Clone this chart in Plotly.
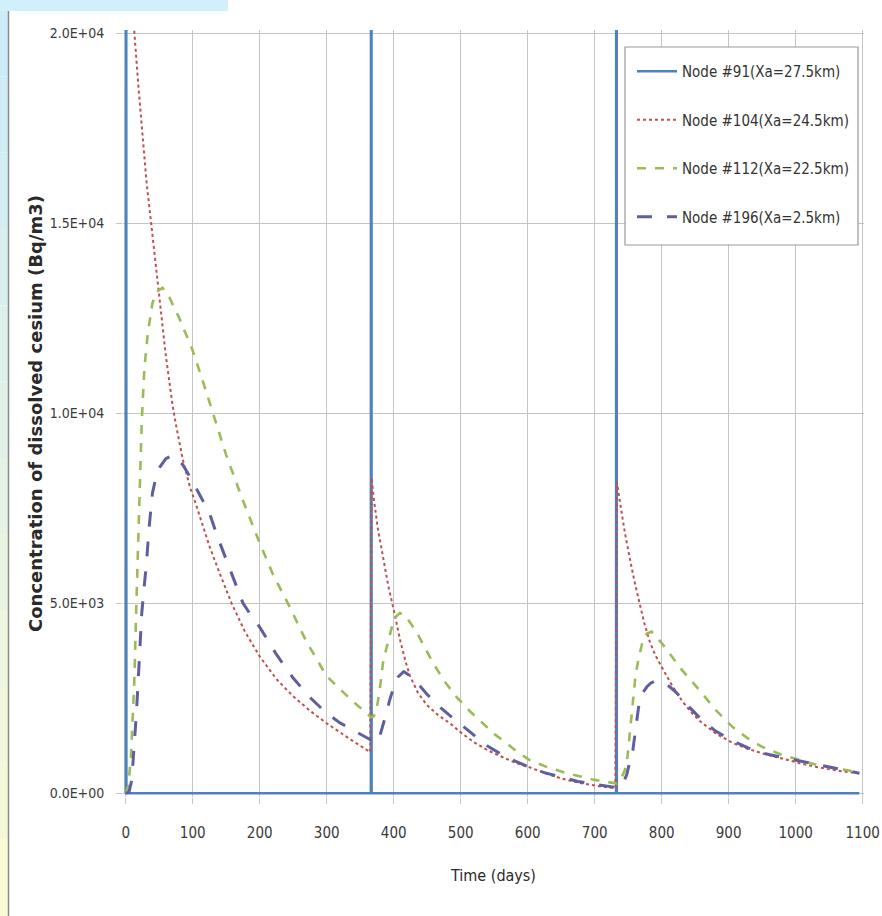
import plotly.graph_objects as go

# ---------------- data ----------------
days_91 = [0, 0.5, 1, 365, 366, 366.5, 367, 731, 732, 732.5, 733, 1095]
vals_91 = [0, 60000, 0, 0, 0, 60000, 0, 0, 0, 60000, 0, 0]

days_104 = [1, 7, 13, 19, 25, 31, 38, 44, 50, 55, 60, 65, 70, 75, 80, 85, 90, 96, 103, 114, 125, 140, 158, 178, 200, 225, 250, 275, 300, 335, 365,
            367, 370, 376, 384, 392, 401, 410, 418, 424, 436, 449, 466, 484, 500, 520, 540, 560, 580, 603, 625, 650, 675, 700, 731,
            733, 737, 741, 745, 750, 755, 761, 767, 774, 782, 790, 800, 815, 830, 843, 857, 880, 906, 928, 950, 978, 1006, 1028, 1050, 1072, 1095]
vals_104 = [24000, 22000, 20000, 18600, 17300, 16100, 15000, 14000, 13000, 12250, 11500, 10850, 10200, 9700, 9200, 8800, 8450, 8050, 7700, 7080, 6500, 5800, 5000, 4250, 3600, 3000, 2550, 2170, 1840, 1420, 1080,
            8300, 7800, 7000, 6200, 5450, 4750, 4000, 3450, 3100, 2650, 2330, 2060, 1840, 1600, 1340, 1130, 960, 810, 680, 530, 390, 280, 200, 130,
            8200, 7700, 7300, 6860, 6380, 5950, 5450, 5000, 4480, 4000, 3650, 3320, 2850, 2440, 2150, 1900, 1580, 1320, 1170, 1050, 910, 790, 700, 630, 570, 526]

days_112 = [0, 4, 8, 11, 13, 16, 19, 21, 24, 28, 33, 40, 47, 55, 65, 80, 100, 115, 130, 150, 175, 200, 220, 242, 270, 300, 334, 366,
            370, 374, 379, 384, 389, 394, 398, 402, 409, 415, 420, 434, 446, 458, 476, 494, 513, 533, 550, 568, 585, 603, 630, 658, 680, 700, 731,
            733, 737, 740, 744, 748, 752, 757, 761, 765, 772, 778, 785, 800, 815, 830, 843, 857, 880, 906, 928, 950, 978, 1006, 1028, 1050, 1072, 1095]
vals_112 = [0, 200, 1000, 2000, 3000, 5000, 6800, 7700, 9800, 11200, 12100, 12900, 13200, 13300, 13050, 12500, 11650, 10850, 10000, 8900, 7700, 6580, 5750, 5000, 3980, 3080, 2500, 2000,
            2020, 2150, 2700, 3420, 3800, 4150, 4420, 4620, 4740, 4700, 4600, 4250, 3850, 3450, 2940, 2530, 2170, 1840, 1560, 1320, 1080, 870, 680, 530, 430, 350, 260,
            250, 300, 400, 560, 790, 1500, 2530, 3100, 3500, 4030, 4200, 4250, 3950, 3600, 3250, 2980, 2700, 2200, 1740, 1450, 1220, 1020, 870, 760, 680, 610, 550]

days_196 = [0, 5, 9, 12, 16, 20, 24, 28, 31, 35, 40, 45, 51, 60, 70, 85, 100, 112, 125, 137, 150, 162, 175, 187, 200, 225, 250, 275, 300, 320, 340, 366,
            370, 374, 378, 382, 389, 394, 398, 402, 406, 415, 428, 440, 450, 460, 470, 484, 498, 520, 540, 570, 603, 625, 650, 675, 700, 731,
            733, 737, 740, 744, 748, 752, 757, 762, 767, 772, 778, 784, 790, 803, 812, 820, 830, 842, 860, 880, 906, 928, 950, 978, 1006, 1028, 1050, 1072, 1095]
vals_196 = [0, 30, 340, 1000, 2100, 3400, 4740, 5500, 6050, 7000, 7900, 8300, 8580, 8800, 8890, 8650, 8200, 7800, 7370, 6750, 6150, 5550, 5000, 4680, 4370, 3650, 3030, 2520, 2100, 1850, 1650, 1400,
            1350, 1320, 1420, 1650, 2100, 2450, 2700, 2900, 3050, 3200, 3050, 2800, 2600, 2420, 2250, 2040, 1840, 1520, 1240, 930, 680, 540, 420, 310, 230, 150,
            150, 170, 200, 320, 500, 800, 1130, 1800, 2450, 2650, 2800, 2900, 2950, 2900, 2800, 2680, 2500, 2250, 1930, 1640, 1380, 1200, 1060, 950, 850, 760, 680, 600, 526]

names = ["Node #91(Xa=27.5km)", "Node #104(Xa=24.5km)", "Node #112(Xa=22.5km)", "Node #196(Xa=2.5km)"]

x_ticks = [0, 100, 200, 300, 400, 500, 600, 700, 800, 900, 1000, 1100]
y_ticks = [0, 5000, 10000, 15000, 20000]
y_tick_text = ["0.0E+00", "5.0E+03", "1.0E+04", "1.5E+04", "2.0E+04"]

y_title = "Concentration of dissolved cesium (Bq/m3)"
x_title = "Time (days)"

# ---------------- figure ----------------
NARROW = "DejaVu Sans Condensed, Liberation Sans Narrow, Roboto, sans-serif"

fig = go.Figure()
fig.add_trace(go.Scatter(x=days_91, y=vals_91, mode="lines", name=names[0], legendgroup="a",
                         line=dict(color="#4F81BD", width=2.6)))
fig.add_trace(go.Scatter(x=days_104, y=vals_104, mode="lines", name=names[1], legendgroup="b",
                         line=dict(color="#C0504D", width=2, dash="dot")))
fig.add_trace(go.Scatter(x=days_112, y=vals_112, mode="lines", name=names[2], legendgroup="c",
                         line=dict(color="#9BBB59", width=2.6, dash="dash")))
fig.add_trace(go.Scatter(x=days_196, y=vals_196, mode="lines", name=names[3], legendgroup="d",
                         line=dict(color="#5F5F9F", width=3, dash="longdash")))

# pixel -> paper helpers
L, W, B, H = 123, 741, 797, 767
def px(xp):
    return (xp - L) / W
def py(yp):
    return (B - yp) / H

shapes = []
n = 12
top_c = (204, 236, 250)
bot_c = (250, 250, 212)
for i in range(n):
    t = i / (n - 1)
    c = tuple(int(top_c[k] + (bot_c[k] - top_c[k]) * t) for k in range(3))
    shapes.append(dict(type="rect", xref="paper", yref="paper", layer="below",
                       x0=px(0), x1=px(8), y0=py(916 * (i + 1) / n), y1=py(916 * i / n),
                       fillcolor="rgb(%d,%d,%d)" % c, line=dict(width=0)))
shapes.append(dict(type="rect", xref="paper", yref="paper", layer="below",
                   x0=px(0), x1=px(228), y0=py(11), y1=py(0),
                   fillcolor="rgb(210,240,252)", line=dict(width=0)))
shapes.append(dict(type="line", xref="paper", yref="paper", layer="below",
                   x0=px(8.5), x1=px(8.5), y0=py(916), y1=py(11),
                   line=dict(color="#8a8a8a", width=1.5)))
# legend frame
shapes.append(dict(type="rect", xref="paper", yref="paper", layer="above",
                   x0=px(625), x1=px(858), y0=py(245), y1=py(47),
                   fillcolor="white", line=dict(color="#9a9a9a", width=1.2)))

fig.update_layout(
    width=882, height=916,
    margin=dict(l=L, r=882 - L - W, t=B - H, b=916 - B, pad=0, autoexpand=False),
    paper_bgcolor="white", plot_bgcolor="white",
    shapes=shapes,
    showlegend=True,
    legend=dict(x=px(632), y=py(55), xanchor="left", yanchor="top",
                bgcolor="rgba(0,0,0,0)", borderwidth=0,
                font=dict(family=NARROW, size=15, color="#333333"),
                tracegroupgap=26, itemwidth=40),
    xaxis=dict(range=[-4, 1102], tickvals=x_ticks, showgrid=True, gridcolor="#c4c4c4", gridwidth=1,
               zeroline=False, showline=False, ticks="outside", ticklen=6, tickcolor="#c4c4c4",
               automargin=False,
               tickfont=dict(family=NARROW, size=15, color="#3a3a3a"), ticklabelstandoff=16,
               title=dict(text=x_title, font=dict(family=NARROW, size=16, color="#2a2a2a"), standoff=28)),
    yaxis=dict(range=[-100, 20080], tickvals=y_ticks, ticktext=y_tick_text, showgrid=True,
               gridcolor="#c4c4c4", gridwidth=1, zeroline=False, showline=False,
               ticks="outside", ticklen=6, tickcolor="#c4c4c4", automargin=False,
               tickfont=dict(family=NARROW, size=14, color="#3a3a3a"), ticklabelstandoff=9),
    annotations=[dict(text="<b>" + y_title + "</b>", xref="paper", yref="paper",
                      x=px(36), y=py(414), xanchor="center", yanchor="middle", textangle=-90,
                      showarrow=False, font=dict(family="DejaVu Sans, sans-serif", size=18, color="#2a2a2a"))],
)

fig.write_html("out.html", config={"displayModeBar": False},
               post_script="document.body.style.margin='0';document.body.style.overflow='hidden';")
